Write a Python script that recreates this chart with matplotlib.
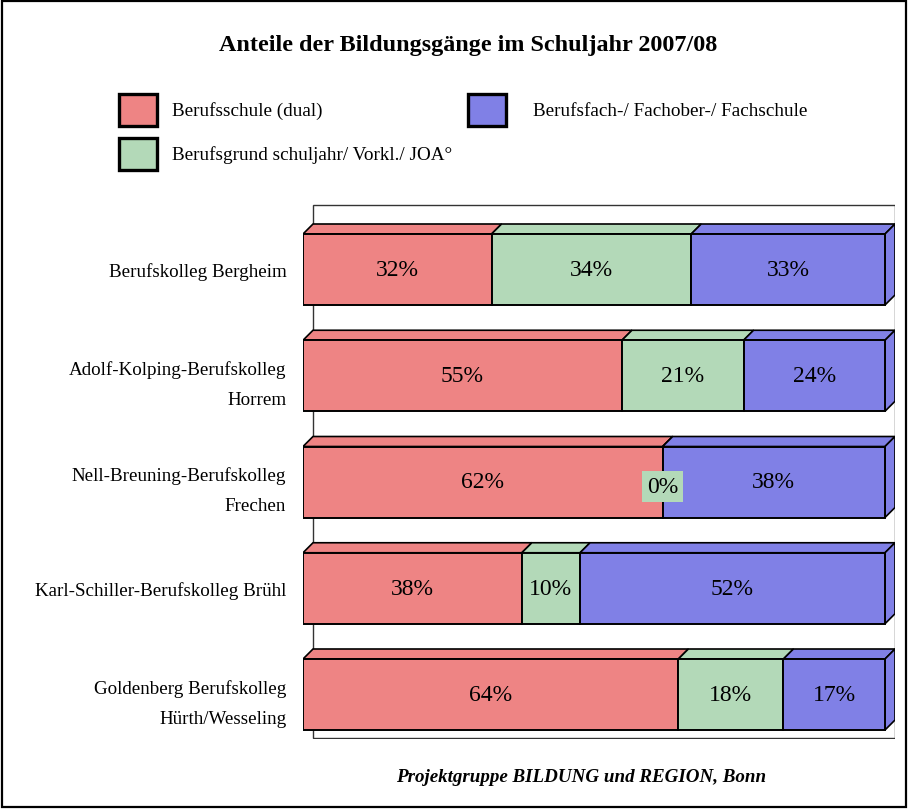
import matplotlib.pyplot as plt
from matplotlib.patches import Rectangle, Polygon

plt.rcParams['font.family'] = ['Liberation Serif', 'DejaVu Serif']

# Data
schools = ['Berufskolleg Bergheim',
           'Adolf-Kolping-Berufskolleg\nHorrem',
           'Nell-Breuning-Berufskolleg\nFrechen',
           'Karl-Schiller-Berufskolleg Brühl',
           'Goldenberg Berufskolleg\nHürth/Wesseling']
series = ['Berufsschule (dual)',
          'Berufsgrund schuljahr/ Vorkl./ JOA°',
          'Berufsfach-/ Fachober-/ Fachschule']
dual = [32.4, 54.8, 61.8, 37.6, 64.3]
grund = [34.3, 20.9, 0.0, 10.0, 18.0]
fach = [33.3, 24.3, 38.2, 52.4, 17.4]
colors = ['#EE8484', '#B3D9B8', '#8080E6']

W, H = 909, 812
fig = plt.figure(figsize=(W / 100, H / 100), dpi=100)

# outer frame
fig.patches.append(Rectangle((2 / W, 4 / H), 904 / W, 806 / H, transform=fig.transFigure,
                             fill=False, edgecolor='black', linewidth=1.6))

fig.text(468 / W, 1 - 45 / H, 'Anteile der Bildungsgänge im Schuljahr 2007/08',
         ha='center', va='center', fontsize=17.4, fontweight='bold')

# legend drawn by hand: square x, y centre, text x
leg_pos = [(119, 111, 172), (119, 155, 172), (468, 111, 533)]
for (lx, ly, tx), lab, c in zip(leg_pos, series, colors):
    fig.patches.append(Rectangle((lx / W, 1 - (ly + 16) / H), 38 / W, 32 / H,
                                 transform=fig.transFigure, facecolor=c,
                                 edgecolor='black', linewidth=2.4))
    fig.text(tx / W, 1 - ly / H, lab, ha='left', va='center', fontsize=13.8)

fig.text(581 / W, 1 - 778 / H, 'Projektgruppe BILDUNG und REGION, Bonn',
         ha='center', va='center', fontsize=13.7, fontweight='bold', style='italic')

# plot area in pixel terms
px_unit = 5.82        # px per percent
row_px = 106.25       # px per row
dx = 10 / px_unit
dy = 10 / row_px
bh = 71 / row_px
xmax = 100 + dx
ytop = 4 + (270.5 - 205) / row_px
ybot = -(740 - 695.5) / row_px

ax = fig.add_axes([303 / W, 1 - 740 / H, 592 / W, 535 / H])
ax.set_xlim(0, xmax)
ax.set_ylim(ybot, ytop)
for s in ax.spines.values():
    s.set_visible(False)
ax.set_xticks([])

# back wall
ax.add_patch(Rectangle((dx, ybot + 0.01), xmax - dx, ytop - ybot - 0.02, fill=False,
                       edgecolor='#333333', linewidth=1.0, zorder=0))

n = len(schools)
ypos = [n - 1 - i for i in range(n)]
for i in range(n):
    vals = [dual[i], grund[i], fach[i]]
    tot = sum(vals)
    y = ypos[i]
    y0, y1 = y - bh / 2, y + bh / 2
    left = 0
    for j, v in enumerate(vals):
        w = v / tot * 100
        x0, x1 = left, left + w
        ec = 'black' if w > 0 else 'none'
        ax.add_patch(Polygon([(x0, y1), (x0 + dx, y1 + dy), (x1 + dx, y1 + dy), (x1, y1)],
                             closed=True, facecolor=colors[j], edgecolor='black',
                             linewidth=1.2, zorder=2))
        if j == len(vals) - 1:
            ax.add_patch(Polygon([(x1, y0), (x1 + dx, y0 + dy), (x1 + dx, y1 + dy), (x1, y1)],
                                 closed=True, facecolor=colors[j], edgecolor='black',
                                 linewidth=1.2, zorder=2))
        ax.add_patch(Rectangle((x0, y0), w, bh, facecolor=colors[j], edgecolor=ec,
                               linewidth=1.4, zorder=3))
        lab = '%.0f%%' % v
        if w > 0:
            ax.text((x0 + x1) / 2, y, lab, ha='center', va='center', fontsize=17, zorder=4)
        else:
            ax.text(x0, y - 0.04, lab, ha='center', va='center', fontsize=17, zorder=5,
                    bbox=dict(facecolor=colors[j], edgecolor='none', pad=3.5))
        left = x1

ax.set_yticks(ypos)
ax.set_yticklabels(schools, fontsize=13.7, linespacing=2.0)
ax.tick_params(axis='y', length=0, pad=12)

fig.savefig('out.png', dpi=100)
